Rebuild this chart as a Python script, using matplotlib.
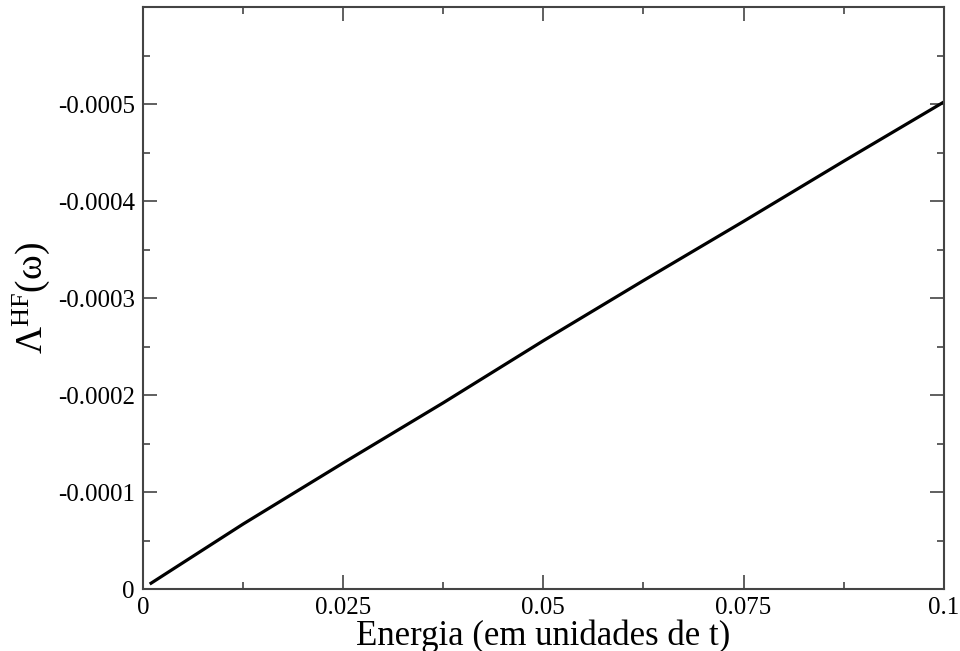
import numpy as np
import matplotlib
matplotlib.use("Agg")
import matplotlib.pyplot as plt
from matplotlib.ticker import MultipleLocator

plt.rcParams["font.family"] = ["Liberation Serif", "DejaVu Serif"]
plt.rcParams["mathtext.fontset"] = "custom"
plt.rcParams["mathtext.rm"] = "Liberation Serif"
plt.rcParams["mathtext.it"] = "Liberation Serif:italic"

# energy (units of t) and Hartree-Fock self-energy
energia = [0.001, 0.0125, 0.025, 0.0375, 0.05, 0.0625, 0.075, 0.0875, 0.1]
lambda_hf = [-0.000006, -0.000067, -0.000130, -0.000192, -0.000256,
             -0.000318, -0.000379, -0.000441, -0.000502]

x_ticks = [0, 0.025, 0.05, 0.075, 0.1]
x_labels = ["0", "0.025", "0.05", "0.075", "0.1"]
y_ticks = [0, -0.0001, -0.0002, -0.0003, -0.0004, -0.0005]
y_labels = ["0", "-0.0001", "-0.0002", "-0.0003", "-0.0004", "-0.0005"]

fig = plt.figure(figsize=(9.6, 6.51), dpi=100)
ax = fig.add_axes([0.149, 0.0952, 0.834, 0.894])

ax.plot(energia, lambda_hf, color="black", lw=2.3)

ax.set_xlim(0, 0.1)
ax.set_ylim(0, -0.0006)
ax.set_xticks(x_ticks)
ax.set_xticklabels(x_labels)
ax.set_yticks(y_ticks)
ax.set_yticklabels(y_labels)
ax.xaxis.set_minor_locator(MultipleLocator(0.0125))
ax.yaxis.set_minor_locator(MultipleLocator(0.00005))

ax.tick_params(which="both", direction="in", top=True, right=True,
               labelsize=18, color="#444444", width=1.2)
ax.tick_params(which="major", length=10, pad=6)
ax.tick_params(which="minor", length=5)
for s in ax.spines.values():
    s.set_linewidth(1.5)
    s.set_color("#444444")

ax.set_xlabel("Energia (em unidades de t)", fontsize=25, labelpad=0)
ax.set_ylabel(r"$\mathrm{\Lambda^{HF}(\omega)}$", fontsize=27, labelpad=4)

fig.savefig("out.png", dpi=100)
